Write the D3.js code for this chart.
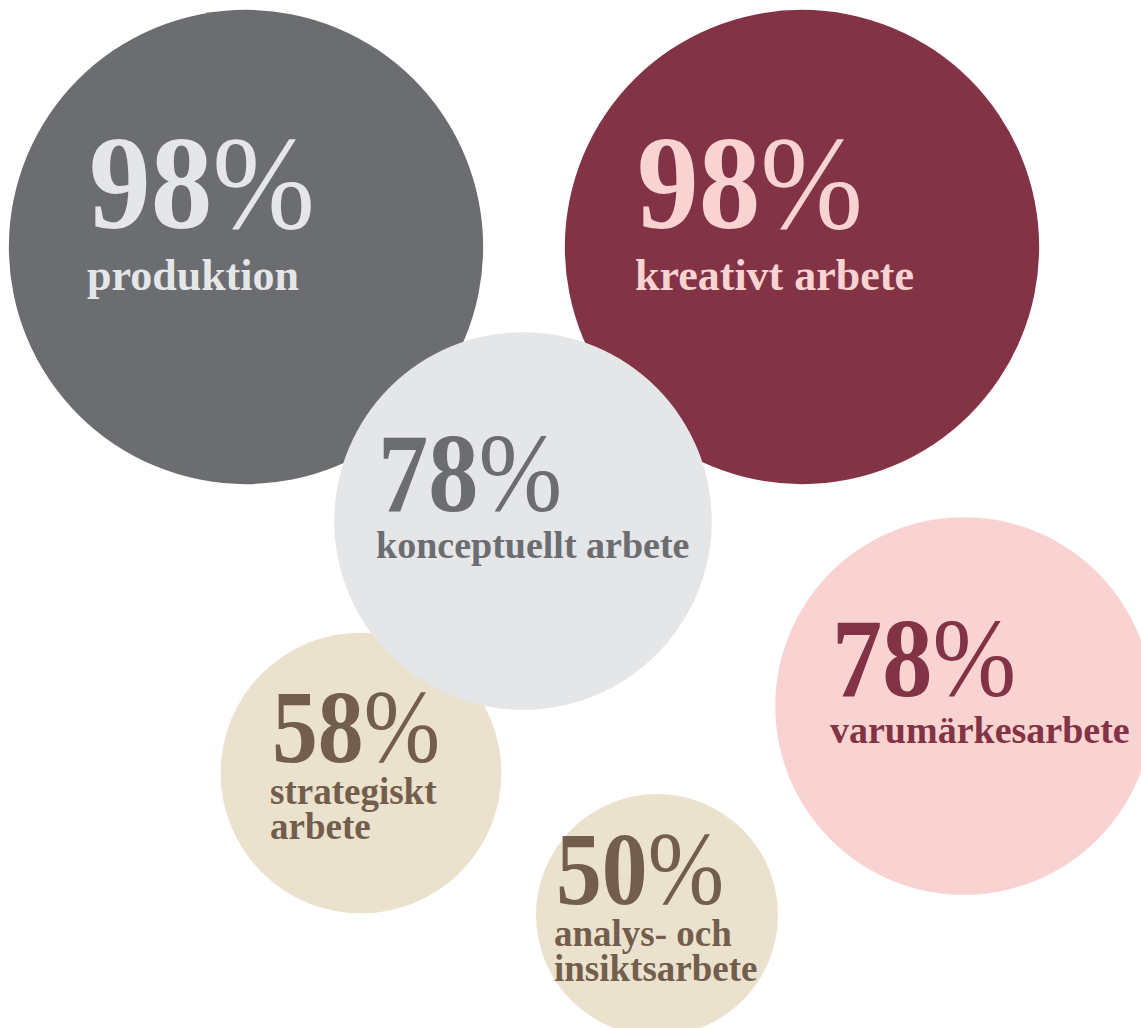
<!DOCTYPE html>
<html>
<head>
<meta charset="utf-8">
<script src="https://cdn.jsdelivr.net/npm/d3@7"></script>
<style>
  body { margin: 0; background: #fff; }
  svg { display: block; }
</style>
</head>
<body>
<svg id="chart" width="1141" height="1028"></svg>
<script>
// data
var categories = ["produktion", "kreativt arbete", "strategiskt arbete", "konceptuellt arbete", "varumärkesarbete", "analys- och insiktsarbete"];
var labelLines = [["produktion"], ["kreativt arbete"], ["strategiskt", "arbete"], ["konceptuellt arbete"], ["varumärkesarbete"], ["analys- och", "insiktsarbete"]];
var values = [98, 98, 58, 78, 78, 50];

// layout (bubble centres, text left edge offset) and colours, kept apart from the values
var centers = [[246, 247], [802, 247], [361, 773], [523, 521], [964, 706], [657, 915]];
var textLeft = [-157, -165, -89, -145, -132, -101];
var fills = ["#6c6d71", "#823345", "#ebe2cd", "#e5e6e8", "#f9d3d2", "#ebe2cd"];
var inks = ["#e5e6e8", "#f9d3d2", "#735e4d", "#6c6d71", "#823345", "#735e4d"];

var svg = d3.select("svg#chart");

var r = d3.scaleLinear()
    .domain([0, 100])
    .range([0, 242]);

var data = categories.map(function(c, i) {
  return {name: c, lines: labelLines[i], value: values[i], cx: centers[i][0], cy: centers[i][1], tx: textLeft[i], fill: fills[i], ink: inks[i]};
});

// text style tiers by bubble size
function tier(d) {
  var rad = r(d.value);
  if (rad > 200) return {big: 134, len: 226, lab: 44, vy: -19, ly: 43, lh: 36};
  if (rad > 150) return {big: 113, len: 184, lab: 38, vy: -10, ly: 37, lh: 34};
  return {big: 103, len: 168, lab: 37, vy: -11, ly: 31, lh: 35};
}

var serif = "'Liberation Serif', 'DejaVu Serif', serif";

var g = svg.selectAll("g.bubble")
  .data(data)
  .enter().append("g")
    .attr("class", "bubble")
    .attr("transform", function(d) { return "translate(" + d.cx + "," + d.cy + ")"; });

g.append("circle")
    .attr("r", function(d) { return r(d.value); })
    .attr("fill", function(d) { return d.fill; });

var big = g.append("text")
    .attr("x", function(d) { return d.tx; })
    .attr("y", function(d) { return tier(d).vy; })
    .attr("font-family", serif)
    .attr("font-size", function(d) { return tier(d).big; })
    .attr("font-weight", "bold")
    .attr("fill", function(d) { return d.ink; })
    .attr("textLength", function(d) { return tier(d).len; })
    .attr("lengthAdjust", "spacingAndGlyphs");

big.append("tspan").text(function(d) { return d.value; });
big.append("tspan").attr("font-weight", "normal").text("%");

g.each(function(d) {
  var t = tier(d), sel = d3.select(this);
  d.lines.forEach(function(line, j) {
    sel.append("text")
        .attr("x", d.tx - 2)
        .attr("y", t.ly + j * t.lh)
        .attr("font-family", serif)
        .attr("font-size", t.lab)
        .attr("font-weight", "bold")
        .attr("fill", d.ink)
        .text(line);
  });
});
</script>
</body>
</html>
